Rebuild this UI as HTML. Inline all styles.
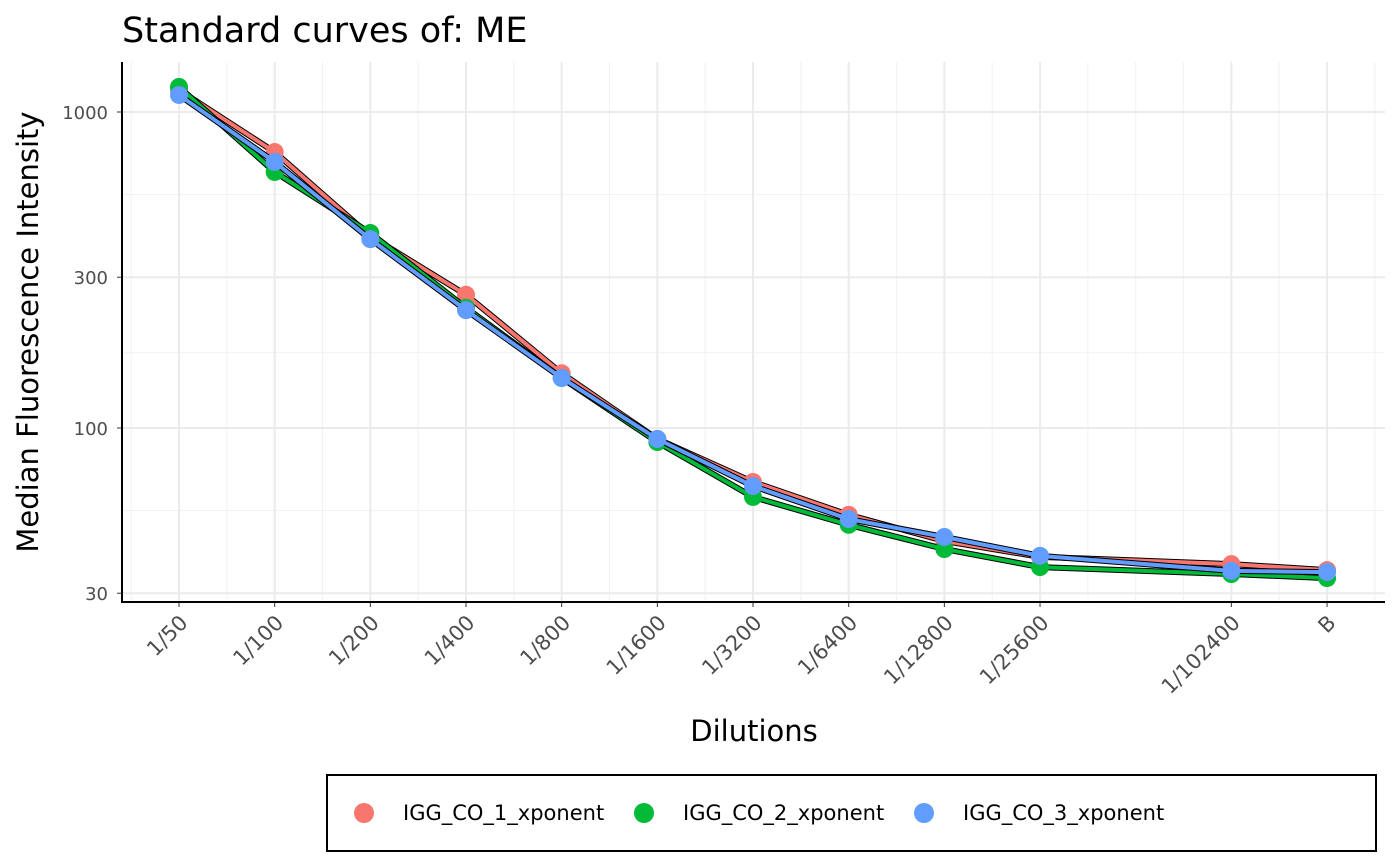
<!DOCTYPE html>
<html><head><meta charset="utf-8"><style>
body{margin:0;background:#fff;font-family:"Liberation Sans","DejaVu Sans",sans-serif;}
svg{display:block}
</style></head><body>
<svg id="chart" width="1400" height="866" viewBox="0 0 1400 866">
<text x="122" y="42" font-size="35" fill="#000" font-family="DejaVu Sans, sans-serif">Standard curves of: ME</text>
<g id="grid"></g><g id="series"></g><g id="axes"></g>
<text x="754" y="741" font-size="29" text-anchor="middle" fill="#000" font-family="DejaVu Sans, sans-serif">Dilutions</text>
<text transform="translate(38,332) rotate(-90)" font-size="29" text-anchor="middle" fill="#000" font-family="DejaVu Sans, sans-serif">Median Fluorescence Intensity</text>
<g>
<rect x="327" y="775" width="1049" height="76" fill="#fff" stroke="#000" stroke-width="2"/>
<g><circle cx="364" cy="813" r="10" fill="#F8766D"/><text x="403" y="820" font-size="21" font-family="DejaVu Sans, sans-serif">IGG_CO_1_xponent</text></g>
<g><circle cx="644" cy="813" r="10" fill="#00BA38"/><text x="683" y="820" font-size="21" font-family="DejaVu Sans, sans-serif">IGG_CO_2_xponent</text></g>
<g><circle cx="924" cy="813" r="10" fill="#619CFF"/><text x="963" y="820" font-size="21" font-family="DejaVu Sans, sans-serif">IGG_CO_3_xponent</text></g>
</g>
</svg>
<script>
const categories=["1/50","1/100","1/200","1/400","1/800","1/1600","1/3200","1/6400","1/12800","1/25600","1/102400","B"];
const catPos=[0,1,2,3,4,5,6,7,8,9,11,12];
const series1=[1174,747,405,264,149,92.3,67.5,53.1,43.9,39.1,37.1,35.5];
const series2=[1200,646,414,240,144,90.3,60.5,49.4,41.4,36.3,34.5,33.5];
const series3=[1132,695,396,236,144,92.3,65.5,51.5,45.2,39.4,35.3,35.0];
const yTicks=[30,100,300,1000];
const yMinor=[54.8,173,548];
const seriesNames=["IGG_CO_1_xponent","IGG_CO_2_xponent","IGG_CO_3_xponent"];
const colors=["#F8766D","#00BA38","#619CFF"];
const NS="http://www.w3.org/2000/svg";
const L=122,R=1385,T=62,B=602;
function xs(p){return 179+p*95.67;}
function ys(v){return 428-316*(Math.log10(v)-2);}
function mk(tag,attrs,parent){const e=document.createElementNS(NS,tag);for(const k in attrs)e.setAttribute(k,attrs[k]);parent.appendChild(e);return e;}
const grid=document.getElementById('grid'),axes=document.getElementById('axes'),sg=document.getElementById('series');
yMinor.forEach(v=>{const l=mk('line',{x1:L,x2:R,y1:ys(v),y2:ys(v),stroke:'#f2f2f2','stroke-width':1},grid);

});
for(let p=-0.5;p<=12.5;p+=1){const l=mk('line',{x1:xs(p),x2:xs(p),y1:T,y2:B,stroke:'#f2f2f2','stroke-width':1},grid);

}
mk('line',{x1:xs(10),x2:xs(10),y1:T,y2:B,stroke:'#f2f2f2','stroke-width':1},grid);
yTicks.forEach(v=>{const y=ys(v);const l=mk('line',{x1:L,x2:R,y1:y,y2:y,stroke:'#ebebeb','stroke-width':2},grid);


const t=mk('text',{x:108,y:y+7,'font-size':18,'text-anchor':'end',fill:'#4d4d4d','font-family':'DejaVu Sans, sans-serif'},axes);t.textContent=v;


mk('line',{x1:L-5,x2:L,y1:y,y2:y,stroke:'#333'},axes);});
categories.forEach((c,i)=>{const x=xs(catPos[i]);const l=mk('line',{x1:x,x2:x,y1:T,y2:B,stroke:'#ebebeb','stroke-width':2},grid);


mk('line',{x1:x,x2:x,y1:B,y2:B+5,stroke:'#333'},axes);
const t=mk('text',{transform:`translate(${x+10},${B+22}) rotate(-45)`,'font-size':21,'text-anchor':'end',fill:'#4d4d4d','font-family':'DejaVu Sans, sans-serif'},axes);t.textContent=c;

});
const l1=mk('line',{x1:L,x2:L,y1:T,y2:B+1,stroke:'#000','stroke-width':2},axes);


const l2=mk('line',{x1:L-1,x2:R,y1:B,y2:B,stroke:'#000','stroke-width':2},axes);


[series1,series2,series3].forEach((s,k)=>{
const pts=s.map((v,i)=>xs(catPos[i])+','+ys(v)).join(' ');
const g=mk('g',{},sg);


mk('polyline',{points:pts,fill:'none',stroke:'#000','stroke-width':6,'stroke-linejoin':'round'},g);
mk('polyline',{points:pts,fill:'none',stroke:colors[k],'stroke-width':4,'stroke-linejoin':'round'},g);
s.forEach((v,i)=>{const c=mk('circle',{cx:xs(catPos[i]),cy:ys(v),r:9,fill:colors[k]},g);

});
});
</script>
</body></html>
